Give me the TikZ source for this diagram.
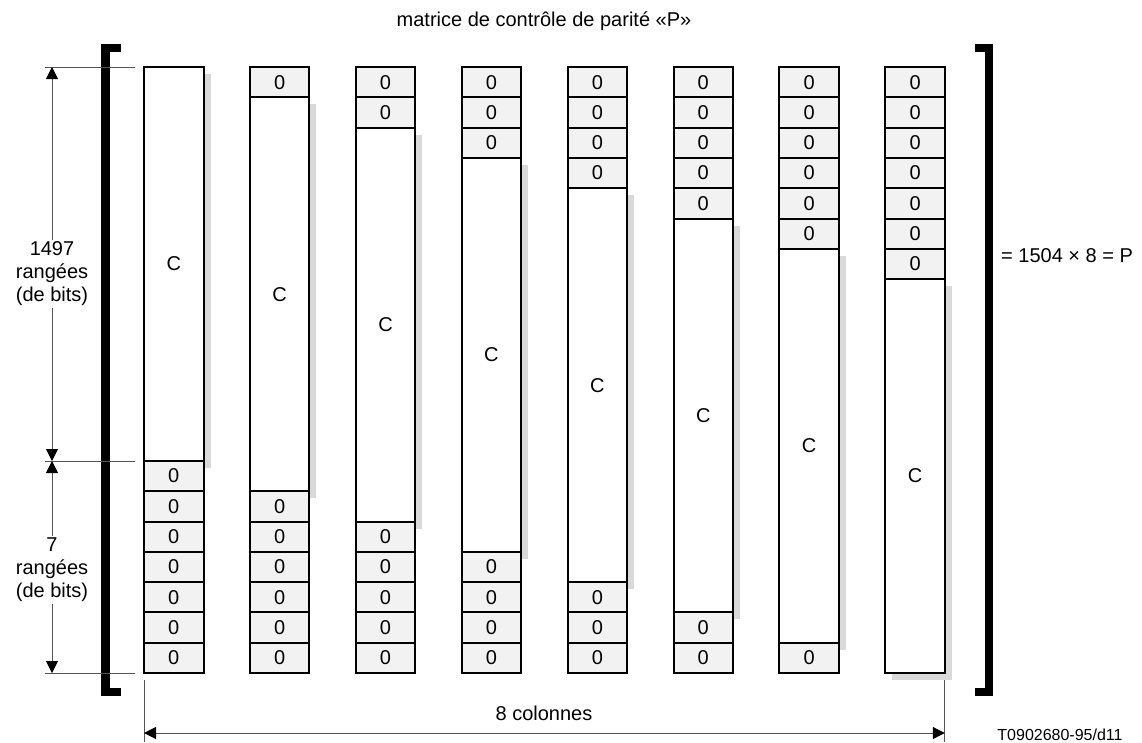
\documentclass[tikz,border=0pt]{standalone}
\usepackage{fontspec}
\setmainfont{Liberation Sans}
\usetikzlibrary{arrows.meta}
\definecolor{zerofill}{HTML}{F2F2F2}
\definecolor{shadowgray}{HTML}{D9D9D9}
\definecolor{dimgray}{HTML}{555555}
\begin{document}
\begin{tikzpicture}[x=1pt,y=-1pt,
  every node/.style={font=\fontsize{20}{23}\selectfont},
  cellbase/.style={draw=black, line width=2pt, minimum width=59.5pt, inner sep=0pt, outer sep=0pt, anchor=north west},
  zerocell/.style={cellbase, fill=zerofill, minimum height=30.3pt},
  cbox/.style={cellbase, fill=white, minimum height=393.9pt},
  shadowbox/.style={fill=shadowgray},
  extline/.style={draw=dimgray, line width=1pt},
  dimarrow/.style={draw=dimgray, line width=1pt,
    {Triangle[length=12pt,width=12pt,color=black]}-{Triangle[length=12pt,width=12pt,color=black]}},
  bracketline/.style={line width=8.5pt, line join=miter, line cap=butt},
  dimlabel/.style={align=center, fill=white, inner sep=2pt}
]
\useasboundingbox (0,0) rectangle (1142,742);

% shadows
\foreach \i in {0,...,7}{
  \fill[shadowbox] ({144+105.9*\i+7},{67+30.3*\i+7}) rectangle ++(59.5,393.9);
}

% columns
\foreach \i in {0,...,7}{
  \pgfmathsetmacro\xl{144+105.9*\i}
  \pgfmathtruncatemacro\kend{\i+13}
  \foreach \k in {0,...,19}{
    \pgfmathsetmacro\yt{67+30.3*\k}
    \ifnum\k<\i \node[zerocell] (z\i-\k) at (\xl,\yt) {0};\fi
    \ifnum\k=\i \node[cbox] (c\i) at (\xl,\yt) {C};\fi
    \ifnum\k<\kend\else \node[zerocell] (z\i-\k) at (\xl,\yt) {0};\fi
  }
}

% brackets
\draw[bracketline] (121,48) -- (105.5,48) -- (105.5,692) -- (121,692);
\draw[bracketline] (975,48) -- (989,48) -- (989,692) -- (975,692);

% left dimension
\coordinate (e1l) at (45,67);    \coordinate (e1r) at (135,67);
\coordinate (e2l) at (45,461);   \coordinate (e2r) at (135,461);
\coordinate (e3l) at (45,673);   \coordinate (e3r) at (135,673);
\draw[extline] (e1l) -- (e1r);
\draw[extline] (e2l) -- (e2r);
\draw[extline] (e3l) -- (e3r);
\coordinate (a1) at (52,67);
\coordinate (a2) at (52,461);
\coordinate (a3) at (52,673);
\draw[dimarrow] (a1) -- (a2);
\draw[dimarrow] (a2) -- (a3);
\node[dimlabel] (lab1) at (52,274) {1497\\rangées\\(de bits)};
\node[dimlabel] (lab2) at (52,570) {7\\rangées\\(de bits)};

% bottom dimension
\coordinate (b1t) at (144,680); \coordinate (b1b) at (144,742);
\coordinate (b2t) at (944.8,680); \coordinate (b2b) at (944.8,742);
\draw[extline] (b1t) -- (b1b);
\draw[extline] (b2t) -- (b2b);
\coordinate (h1) at (144,733);
\coordinate (h2) at (944.8,733);
\draw[dimarrow] (h1) -- (h2);
\node (cols) at (544,713) {8 colonnes};

% texts
\node (title) at (544,21) {matrice de contrôle de parité «P»};
\node[anchor=west, inner sep=0pt] (eq) at (1001,256) {= 1504 × 8 = P};
\node[font=\fontsize{16}{19}\selectfont, inner sep=0pt] (tnum) at (1060,735) {T0902680-95/d11};
\end{tikzpicture}
\end{document}
